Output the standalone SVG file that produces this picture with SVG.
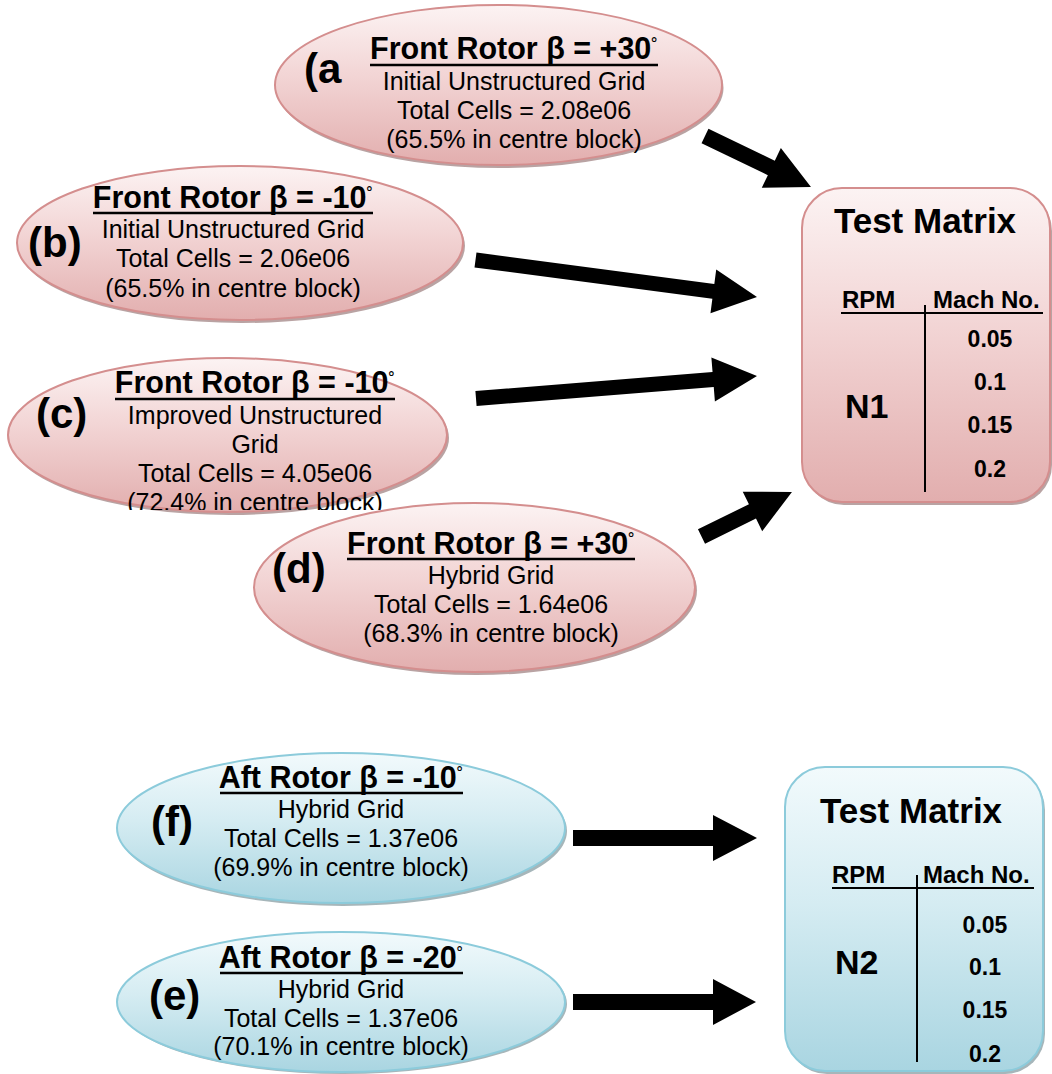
<svg xmlns="http://www.w3.org/2000/svg" width="1052" height="1074" viewBox="0 0 1052 1074">
  <defs>
    <linearGradient id="gPink" x1="0" y1="0" x2="0" y2="1">
      <stop offset="0" stop-color="#fcf3f3"/>
      <stop offset="0.45" stop-color="#f2d4d4"/>
      <stop offset="1" stop-color="#e2aeae"/>
    </linearGradient>
    <linearGradient id="gBlue" x1="0" y1="0" x2="0" y2="1">
      <stop offset="0" stop-color="#f2fafc"/>
      <stop offset="0.45" stop-color="#d5ecf2"/>
      <stop offset="1" stop-color="#a9d5e1"/>
    </linearGradient>
    <clipPath id="clipC">
      <rect x="0" y="340" width="500" height="170"/>
    </clipPath>
    <style>
      .pink { fill: url(#gPink); stroke: #d48e8e; stroke-width: 2; }
      .blue { fill: url(#gBlue); stroke: #8ccbdb; stroke-width: 2; }
      .shPink { fill: #b9a3a3; }
      .shBlue { fill: #a6b6ba; }
      .title { font-family: "Liberation Sans", Arial, sans-serif; font-weight: bold; font-size: 30.5px; fill: #000; text-anchor: middle; }
      .deg { font-size: 20px; font-weight: normal; }
      .body { font-family: "Liberation Sans", Arial, sans-serif; font-size: 25px; fill: #000; text-anchor: middle; }
      .lbl { font-family: "Liberation Sans", Arial, sans-serif; font-weight: bold; font-size: 42px; fill: #000; }
      .ul { stroke: #000; stroke-width: 2.5; }
      .tm { font-family: "Liberation Sans", Arial, sans-serif; font-weight: bold; font-size: 35px; fill: #000; text-anchor: middle; }
      .hd { font-family: "Liberation Sans", Arial, sans-serif; font-weight: bold; font-size: 24px; fill: #000; }
      .val { font-family: "Liberation Sans", Arial, sans-serif; font-weight: bold; font-size: 23px; fill: #000; text-anchor: middle; }
      .rpm { font-family: "Liberation Sans", Arial, sans-serif; font-weight: bold; font-size: 34px; fill: #000; }
      .tl { stroke: #000; stroke-width: 2; }
      .arrow { fill: #000; }
    </style>
  </defs>

  <rect x="0" y="0" width="1052" height="1074" fill="#ffffff"/>

  <!-- Node a -->
  <g id="node-a">
    <ellipse class="shPink" cx="500" cy="88" rx="223.5" ry="80"/>
    <ellipse class="pink" cx="498.5" cy="85" rx="223.5" ry="80"/>
    <text class="lbl" x="304" y="83">(a</text>
    <text class="title" x="514" y="59">Front Rotor β = +30<tspan class="deg" dy="-5">˚</tspan></text>
    <line class="ul" x1="370" y1="65" x2="658" y2="65"/>
    <text class="body" x="514" y="90">Initial Unstructured Grid</text>
    <text class="body" x="514" y="119">Total Cells = 2.08e06</text>
    <text class="body" x="514" y="148">(65.5% in centre block)</text>
  </g>

  <!-- Node b -->
  <g id="node-b">
    <ellipse class="shPink" cx="242" cy="246" rx="223" ry="77"/>
    <ellipse class="pink" cx="240" cy="243" rx="223" ry="77"/>
    <text class="lbl" x="28" y="257">(b)</text>
    <text class="title" x="233" y="208">Front Rotor β = -10<tspan class="deg" dy="-5">˚</tspan></text>
    <line class="ul" x1="93" y1="213" x2="373" y2="213"/>
    <text class="body" x="233" y="238">Initial Unstructured Grid</text>
    <text class="body" x="233" y="267">Total Cells = 2.06e06</text>
    <text class="body" x="233" y="297">(65.5% in centre block)</text>
  </g>

  <!-- Node c -->
  <g id="node-c">
    <ellipse class="shPink" cx="229.5" cy="438" rx="219.5" ry="77"/>
    <ellipse class="pink" cx="227.5" cy="435" rx="219.5" ry="77"/>
    <text class="lbl" x="36" y="428">(c)</text>
    <text class="title" x="255" y="393">Front Rotor β = -10<tspan class="deg" dy="-5">˚</tspan></text>
    <line class="ul" x1="115" y1="399" x2="395" y2="399"/>
    <text class="body" x="255" y="424">Improved Unstructured</text>
    <text class="body" x="255" y="453">Grid</text>
    <text class="body" x="255" y="482">Total Cells = 4.05e06</text>
    <text class="body" x="255" y="511" clip-path="url(#clipC)">(72.4% in centre block)</text>
  </g>

  <!-- Node d -->
  <g id="node-d">
    <ellipse class="shPink" cx="476.5" cy="590.5" rx="220.5" ry="84.5"/>
    <ellipse class="pink" cx="474.5" cy="587.5" rx="220.5" ry="84.5"/>
    <text class="lbl" x="272" y="583">(d)</text>
    <text class="title" x="491" y="554">Front Rotor β = +30<tspan class="deg" dy="-5">˚</tspan></text>
    <line class="ul" x1="347" y1="559" x2="635" y2="559"/>
    <text class="body" x="491" y="584">Hybrid Grid</text>
    <text class="body" x="491" y="613">Total Cells = 1.64e06</text>
    <text class="body" x="491" y="642">(68.3% in centre block)</text>
  </g>

  <!-- Node f -->
  <g id="node-f">
    <ellipse class="shBlue" cx="343" cy="831" rx="224" ry="75"/>
    <ellipse class="blue" cx="341" cy="828" rx="224" ry="75"/>
    <text class="lbl" x="151" y="836">(f)</text>
    <text class="title" x="341" y="788">Aft Rotor β = -10<tspan class="deg" dy="-5">˚</tspan></text>
    <line class="ul" x1="220" y1="793" x2="463" y2="793"/>
    <text class="body" x="341" y="818">Hybrid Grid</text>
    <text class="body" x="341" y="847">Total Cells = 1.37e06</text>
    <text class="body" x="341" y="876">(69.9% in centre block)</text>
  </g>

  <!-- Node e -->
  <g id="node-e">
    <ellipse class="shBlue" cx="343" cy="1004" rx="224" ry="70"/>
    <ellipse class="blue" cx="341" cy="1002" rx="224" ry="70"/>
    <text class="lbl" x="149" y="1010">(e)</text>
    <text class="title" x="341" y="968">Aft Rotor β = -20<tspan class="deg" dy="-5">˚</tspan></text>
    <line class="ul" x1="220" y1="973" x2="463" y2="973"/>
    <text class="body" x="341" y="998">Hybrid Grid</text>
    <text class="body" x="341" y="1027">Total Cells = 1.37e06</text>
    <text class="body" x="341" y="1055">(70.1% in centre block)</text>
  </g>

  <!-- Test Matrix N1 -->
  <g id="matrix-n1">
    <rect class="shPink" x="804" y="191" width="248" height="314" rx="40" ry="40"/>
    <rect class="pink" x="802" y="188" width="248" height="314" rx="40" ry="40"/>
    <text class="tm" x="925" y="233">Test Matrix</text>
    <text class="hd" x="842" y="308">RPM</text>
    <text class="hd" x="933" y="308">Mach No.</text>
    <line class="tl" x1="841" y1="313" x2="1043" y2="313"/>
    <line class="tl" x1="925" y1="305" x2="925" y2="492"/>
    <text class="rpm" x="845" y="418">N1</text>
    <text class="val" x="990" y="347">0.05</text>
    <text class="val" x="990" y="390">0.1</text>
    <text class="val" x="990" y="433">0.15</text>
    <text class="val" x="990" y="477">0.2</text>
  </g>

  <!-- Test Matrix N2 -->
  <g id="matrix-n2">
    <rect class="shBlue" x="787" y="770" width="258" height="304" rx="40" ry="40"/>
    <rect class="blue" x="785" y="767" width="258" height="304" rx="40" ry="40"/>
    <text class="tm" x="911" y="823">Test Matrix</text>
    <text class="hd" x="832" y="883">RPM</text>
    <text class="hd" x="923" y="883">Mach No.</text>
    <line class="tl" x1="832" y1="888" x2="1034" y2="888"/>
    <line class="tl" x1="917" y1="875" x2="917" y2="1062"/>
    <text class="rpm" x="835" y="974">N2</text>
    <text class="val" x="985" y="933">0.05</text>
    <text class="val" x="985" y="975">0.1</text>
    <text class="val" x="985" y="1018">0.15</text>
    <text class="val" x="985" y="1062">0.2</text>
  </g>

  <!-- Connectors -->
  <g id="connectors">
    <path class="arrow" transform="translate(705,136) rotate(25.7)" d="M0,-8 H73.6 V-22 L117.6,0 L73.6,22 V8 H0 Z"/>
    <path class="arrow" transform="translate(475.5,260) rotate(7.5)" d="M0,-7.5 H239.9 V-22 L283.9,0 L239.9,22 V7.5 H0 Z"/>
    <path class="arrow" transform="translate(476,398.5) rotate(-4.58)" d="M0,-7.5 H237.9 V-22 L281.9,0 L237.9,22 V7.5 H0 Z"/>
    <path class="arrow" transform="translate(701.5,536.5) rotate(-26.2)" d="M0,-8 H56.8 V-22 L100.8,0 L56.8,22 V8 H0 Z"/>
    <path class="arrow" transform="translate(573,838)" d="M0,-8 H140 V-23 L184,0 L140,23 V8 H0 Z"/>
    <path class="arrow" transform="translate(573,1002)" d="M0,-8 H140 V-23 L183,0 L140,23 V8 H0 Z"/>
  </g>
</svg>
